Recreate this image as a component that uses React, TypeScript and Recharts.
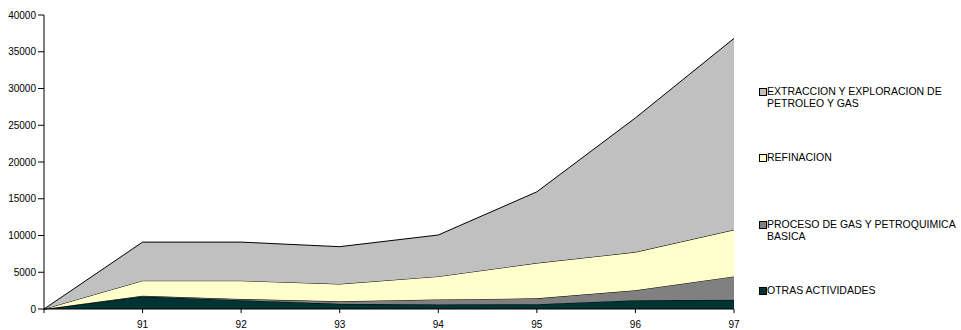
import { Area, AreaChart, XAxis, YAxis } from "recharts"

const years = ["", "91", "92", "93", "94", "95", "96", "97"]

const otrasActividades = [0, 1700, 1200, 700, 600, 650, 1200, 1250]
const procesoGas = [0, 100, 160, 350, 700, 800, 1350, 3180]
const refinacion = [0, 2050, 2490, 2350, 3130, 4800, 5190, 6340]
const extraccion = [0, 5250, 5250, 5080, 5640, 9690, 18260, 26050]

const yTicks = [0, 5000, 10000, 15000, 20000, 25000, 30000, 35000, 40000]

// bottom to top, same order as the stack
const series = [
    { key: "otras", name: "OTRAS ACTIVIDADES", lines: ["OTRAS ACTIVIDADES"], color: "#003333", values: otrasActividades, top: 285 },
    { key: "proceso", name: "PROCESO DE GAS Y PETROQUIMICA BASICA", lines: ["PROCESO DE GAS Y PETROQUIMICA", "BASICA"], color: "#808080", values: procesoGas, top: 219 },
    { key: "refinacion", name: "REFINACION", lines: ["REFINACION"], color: "#FFFFCC", values: refinacion, top: 152 },
    { key: "extraccion", name: "EXTRACCION Y EXPLORACION DE PETROLEO Y GAS", lines: ["EXTRACCION Y EXPLORACION DE", "PETROLEO Y GAS"], color: "#C0C0C0", values: extraccion, top: 86 },
]

const data = years.map((year, i) => {
    const row: Record<string, string | number> = { year }
    series.forEach((s) => {
        row[s.key] = s.values[i]
    })
    return row
})

const font = "Arial, 'Liberation Sans', sans-serif"

const App = () => {
    return (
        <div style={{ position: "absolute", left: 0, top: 0, width: 961, height: 330, background: "#fff", fontFamily: font }}>
            <AreaChart width={961} height={330} data={data} margin={{ top: 15, right: 227, bottom: 1, left: 0 }}>
                <XAxis
                    dataKey="year"
                    stroke="#000"
                    tickSize={4}
                    tickMargin={8}
                    height={20}
                    interval={0}
                    tick={{ fontSize: 10, fill: "#000", fontFamily: font }}
                />
                <YAxis
                    domain={[0, 40000]}
                    ticks={yTicks}
                    stroke="#000"
                    width={44}
                    tickSize={6}
                    tickMargin={2}
                    interval={0}
                    tick={{ fontSize: 10, fill: "#000", fontFamily: font }}
                />
                {series.map((s) => (
                    <Area
                        key={s.key}
                        type="linear"
                        dataKey={s.key}
                        name={s.name}
                        stackId="1"
                        stroke="#000"
                        strokeWidth={1}
                        fill={s.color}
                        fillOpacity={1}
                        dot={false}
                        activeDot={false}
                        isAnimationActive={false}
                    />
                ))}
            </AreaChart>
            {series.map((s) => (
                <div key={s.key} style={{ position: "absolute", left: 759, top: s.top, fontSize: 10.5, lineHeight: "11.7px", color: "#000" }}>
                    <span style={{ position: "absolute", left: 0, top: 2, width: 6, height: 6, border: "1px solid #000", background: s.color }} />
                    <div style={{ marginLeft: 8, whiteSpace: "nowrap" }}>
                        {s.lines.map((l) => (
                            <div key={l}>{l}</div>
                        ))}
                    </div>
                </div>
            ))}
        </div>
    )
}

export default App
